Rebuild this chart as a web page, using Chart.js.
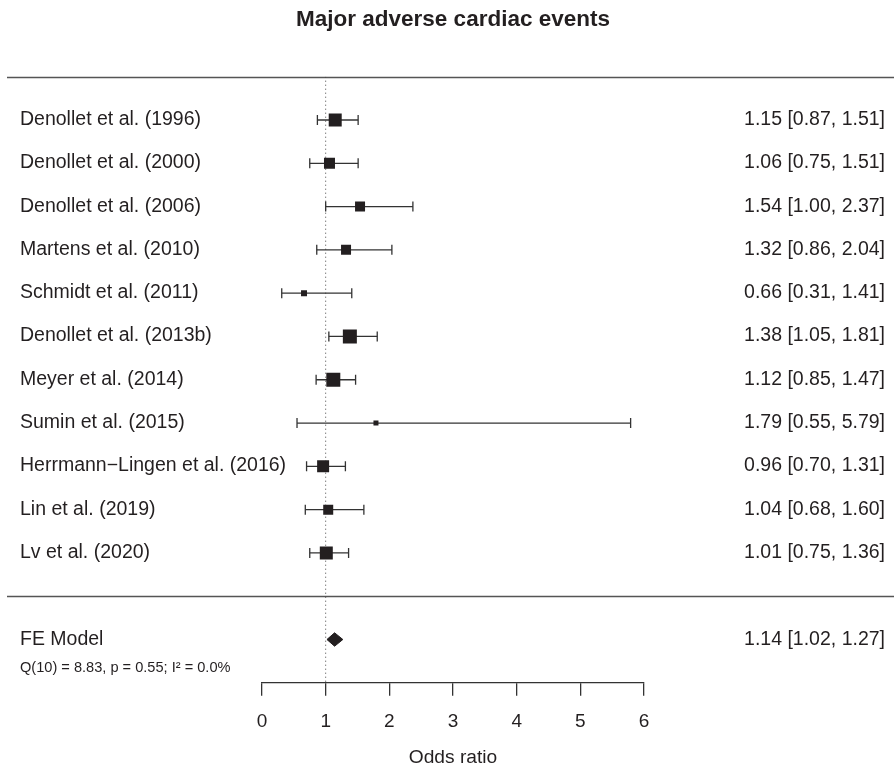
<!DOCTYPE html>
<html>
<head>
<meta charset="utf-8">
<script src="https://cdn.jsdelivr.net/npm/chart.js@4.4.1/dist/chart.umd.min.js"></script>
<style>
  html, body { margin: 0; padding: 0; background: #fff; }
  #wrap { width: 894px; height: 769px; }
</style>
</head>
<body>
<div id="wrap"><canvas id="forest"></canvas></div>
<script>
// study data, top to bottom
const studies = [
  'Denollet et al. (1996)', 'Denollet et al. (2000)', 'Denollet et al. (2006)',
  'Martens et al. (2010)', 'Schmidt et al. (2011)', 'Denollet et al. (2013b)',
  'Meyer et al. (2014)', 'Sumin et al. (2015)', 'Herrmann\u2212Lingen et al. (2016)',
  'Lin et al. (2019)', 'Lv et al. (2020)'
];
const orEst  = [1.15, 1.06, 1.54, 1.32, 0.66, 1.38, 1.12, 1.79, 0.96, 1.04, 1.01];
const ciLow  = [0.87, 0.75, 1.00, 0.86, 0.31, 1.05, 0.85, 0.55, 0.70, 0.68, 0.75];
const ciHigh = [1.51, 1.51, 2.37, 2.04, 1.41, 1.81, 1.47, 5.79, 1.31, 1.60, 1.36];

const feLabel = 'FE Model';
const feEst = 1.14, feLow = 1.02, feHigh = 1.27;
const hetText = 'Q(10) = 8.83, p = 0.55; I\u00b2 = 0.0%';

const xTicks = [0, 1, 2, 3, 4, 5, 6];
const refValue = 1;
const chartTitle = 'Major adverse cardiac events';
const xTitle = 'Odds ratio';

// styling
const boxSide = [13, 11, 10, 10, 6, 14, 14, 5, 12, 10, 13];  // square side in px
const FONT = '"Liberation Sans", Arial, Helvetica, sans-serif';
const ink = '#231f20';
const barColor = '#333333';
const ruleColor = '#555555';

// rows: studies at 11..1, separator at 0, summary at -1, axis at -2
const n = studies.length;
const rows = studies.map((s, i) => n - i);
const topRow = n + 1, sepRow = 0, feRow = -1;

const fmt = (e, l, h) => e.toFixed(2) + ' [' + l.toFixed(2) + ', ' + h.toFixed(2) + ']';

const datasets = [];
// squares
datasets.push({
  data: orEst.map((v, i) => ({x: v, y: rows[i]})),
  showLine: false,
  pointStyle: 'rect',
  pointRadius: boxSide.map(s => s / Math.SQRT2),
  pointBackgroundColor: ink,
  pointBorderWidth: 0
});
// summary diamond
const dh = 0.155;
datasets.push({
  data: [
    {x: feLow, y: feRow}, {x: feEst, y: feRow + dh},
    {x: feHigh, y: feRow}, {x: feEst, y: feRow - dh}, {x: feLow, y: feRow}
  ],
  showLine: true,
  fill: 'shape',
  backgroundColor: ink,
  borderColor: ink,
  borderWidth: 1,
  pointRadius: 0,
  tension: 0
});
// confidence intervals
studies.forEach((s, i) => {
  datasets.push({
    data: [{x: ciLow[i], y: rows[i]}, {x: ciHigh[i], y: rows[i]}],
    showLine: true,
    borderColor: barColor,
    borderWidth: 1.3,
    pointStyle: 'line',
    pointRotation: 90,
    pointRadius: 5,
    pointBorderColor: barColor,
    pointBorderWidth: 1.3
  });
});
// reference line
datasets.push({
  data: [{x: refValue, y: topRow}, {x: refValue, y: -2}],
  showLine: true,
  borderColor: '#444444',
  borderWidth: 1,
  borderDash: [1, 3],
  pointRadius: 0
});

const forestText = {
  id: 'forestText',
  beforeDatasetsDraw(chart) {
    const {ctx} = chart;
    const ys = chart.scales.y;
    ctx.save();
    ctx.strokeStyle = ruleColor;
    ctx.lineWidth = 1.3;
    [topRow, sepRow].forEach(r => {
      const py = Math.round(ys.getPixelForValue(r)) + 0.5;
      ctx.beginPath();
      ctx.moveTo(7, py);
      ctx.lineTo(chart.width, py);
      ctx.stroke();
    });
    ctx.restore();
  },
  afterDatasetsDraw(chart) {
    const {ctx} = chart;
    const ys = chart.scales.y;
    ctx.save();
    ctx.fillStyle = ink;
    ctx.textBaseline = 'alphabetic';
    ctx.font = '19.5px ' + FONT;
    studies.forEach((s, i) => {
      const py = ys.getPixelForValue(rows[i]) + 5;
      ctx.textAlign = 'left';
      ctx.fillText(s, 20, py);
      ctx.textAlign = 'right';
      ctx.fillText(fmt(orEst[i], ciLow[i], ciHigh[i]), 885, py);
    });
    const fy = ys.getPixelForValue(feRow) + 5;
    ctx.textAlign = 'left';
    ctx.fillText(feLabel, 20, fy);
    ctx.textAlign = 'right';
    ctx.fillText(fmt(feEst, feLow, feHigh), 885, fy);
    ctx.textAlign = 'left';
    ctx.font = '14.6px ' + FONT;
    ctx.fillText(hetText, 20, fy + 27);
    ctx.restore();
  }
};

new Chart(document.getElementById('forest'), {
  type: 'scatter',
  data: {datasets},
  plugins: [forestText],
  options: {
    responsive: true,
    maintainAspectRatio: false,
    animation: false,
    devicePixelRatio: 1,
    layout: {padding: {left: 262, right: 250, top: 0, bottom: 2}},
    plugins: {
      legend: {display: false},
      tooltip: {enabled: false},
      title: {
        display: true,
        text: chartTitle,
        color: ink,
        font: {family: FONT, size: 22.5, weight: 'bold'},
        padding: {top: 6, bottom: 43.7}
      }
    },
    scales: {
      x: {
        type: 'linear',
        min: 0,
        max: 6,
        position: 'bottom',
        afterBuildTicks: s => { s.ticks = xTicks.map(v => ({value: v})); },
        grid: {display: true, drawOnChartArea: false, drawTicks: true, tickLength: 13, color: barColor, lineWidth: 1.3},
        border: {display: true, color: barColor, width: 1.3},
        ticks: {color: ink, font: {family: FONT, size: 19}, padding: 14.6, maxRotation: 0, autoSkip: false},
        title: {display: true, text: xTitle, color: ink, font: {family: FONT, size: 19.2, lineHeight: 1}, padding: {top: 0, bottom: 0}}
      },
      y: {type: 'linear', min: -2, max: topRow, display: false}
    }
  }
});
</script>
</body>
</html>
